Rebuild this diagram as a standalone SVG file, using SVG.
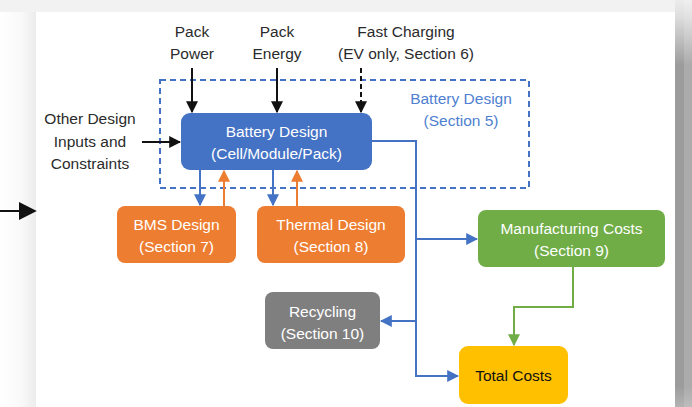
<svg xmlns="http://www.w3.org/2000/svg" width="692" height="407" viewBox="0 0 692 407">
  <defs>
    <linearGradient id="shadeRight" x1="0" y1="0" x2="0" y2="1">
      <stop offset="0" stop-color="#ececec"/>
      <stop offset="0.04" stop-color="#dedede"/>
      <stop offset="0.16" stop-color="#9c9c9c"/>
      <stop offset="0.95" stop-color="#9c9c9c"/>
      <stop offset="1" stop-color="#b4b4b4"/>
    </linearGradient>
    <linearGradient id="shadeRightOuter" x1="0" y1="0" x2="0" y2="1">
      <stop offset="0" stop-color="#efefef"/>
      <stop offset="0.04" stop-color="#e2e2e2"/>
      <stop offset="0.16" stop-color="#ababab"/>
      <stop offset="0.95" stop-color="#ababab"/>
      <stop offset="1" stop-color="#bdbdbd"/>
    </linearGradient>
    <linearGradient id="shadeLeft" x1="0" y1="0" x2="1" y2="0">
      <stop offset="0" stop-color="#ffffff"/>
      <stop offset="0.6" stop-color="#f9f9f9"/>
      <stop offset="1" stop-color="#ececec"/>
    </linearGradient>
    <marker id="arrowBlack" viewBox="0 0 10 10" refX="9" refY="5" markerWidth="6" markerHeight="6" markerUnits="strokeWidth" orient="auto">
      <path d="M0,0 L10,5 L0,10 z" fill="#111"/>
    </marker>
    <marker id="arrowBlackLarge" viewBox="0 0 10 10" refX="9" refY="5" markerWidth="9" markerHeight="9" markerUnits="strokeWidth" orient="auto">
      <path d="M0,0 L10,5 L0,10 z" fill="#111"/>
    </marker>
    <marker id="arrowBlue" viewBox="0 0 10 10" refX="9" refY="5" markerWidth="6" markerHeight="6" markerUnits="strokeWidth" orient="auto">
      <path d="M0,0 L10,5 L0,10 z" fill="#4472c4"/>
    </marker>
    <marker id="arrowOrange" viewBox="0 0 10 10" refX="9" refY="5" markerWidth="6" markerHeight="6" markerUnits="strokeWidth" orient="auto">
      <path d="M0,0 L10,5 L0,10 z" fill="#ed7d31"/>
    </marker>
    <marker id="arrowGreen" viewBox="0 0 10 10" refX="9" refY="5" markerWidth="6" markerHeight="6" markerUnits="strokeWidth" orient="auto">
      <path d="M0,0 L10,5 L0,10 z" fill="#70ad47"/>
    </marker>
  </defs>
  <style>
    text { font-family: "Liberation Sans", Arial, sans-serif; font-size: 15.5px; text-anchor: middle; }
    .dark { fill: #2b2b2b; }
    .light { fill: #ffffff; }
    .sec { fill: #4f7fd0; }
    .node rect { stroke: none; }
    .blue { fill: #4472c4; }
    .orange { fill: #ed7d31; }
    .green { fill: #70ad47; }
    .grey { fill: #7f7f7f; }
    .gold { fill: #ffc000; }
    .conn path, .conn line { fill: none; stroke-width: 2; }
    .k { stroke: #111; marker-end: url(#arrowBlack); }
    .kl { stroke: #111; marker-end: url(#arrowBlackLarge); }
    .b { stroke: #4472c4; marker-end: url(#arrowBlue); }
    .o { stroke: #ed7d31; marker-end: url(#arrowOrange); }
    .g { stroke: #70ad47; marker-end: url(#arrowGreen); }
  </style>

  <!-- page backdrop and panel -->
  <rect x="0" y="0" width="692" height="407" fill="#f2f2f2"/>
  <rect x="0" y="12" width="36" height="395" fill="url(#shadeLeft)"/>
  <rect x="675" y="0" width="9" height="407" fill="url(#shadeRight)"/>
  <rect x="684" y="0" width="8" height="407" fill="url(#shadeRightOuter)"/>
  <rect x="36" y="12" width="639" height="395" fill="#ffffff"/>

  <!-- battery design section boundary -->
  <g id="section5">
    <rect x="160" y="80" width="369" height="108" fill="none" stroke="#4472c4" stroke-width="2" stroke-dasharray="6,4"/>
    <text class="sec" x="461" y="104">Battery Design</text>
    <text class="sec" x="461" y="126">(Section 5)</text>
  </g>

  <!-- input labels -->
  <g id="pack-power">
    <text class="dark" x="192" y="37">Pack</text>
    <text class="dark" x="192" y="59">Power</text>
  </g>
  <g id="pack-energy">
    <text class="dark" x="277" y="37">Pack</text>
    <text class="dark" x="277" y="59">Energy</text>
  </g>
  <g id="fast-charging">
    <text class="dark" x="406" y="37">Fast Charging</text>
    <text class="dark" x="406" y="59">(EV only, Section 6)</text>
  </g>
  <g id="other-inputs">
    <text class="dark" x="90" y="124">Other Design</text>
    <text class="dark" x="90" y="147">Inputs and</text>
    <text class="dark" x="90" y="169">Constraints</text>
  </g>

  <!-- connectors -->
  <g id="connectors" class="conn">
    <line class="kl" x1="0" y1="211" x2="35" y2="211" stroke-width="1.8"/>
    <line class="k" x1="192" y1="68" x2="192" y2="112"/>
    <line class="k" x1="277" y1="68" x2="277" y2="112"/>
    <line class="k" x1="361" y1="68" x2="361" y2="112" stroke-dasharray="5,3"/>
    <line class="k" x1="142" y1="142" x2="180" y2="142"/>
    <line class="b" x1="200" y1="170" x2="200" y2="205"/>
    <line class="o" x1="224" y1="206" x2="224" y2="171"/>
    <line class="b" x1="273" y1="170" x2="273" y2="205"/>
    <line class="o" x1="297" y1="206" x2="297" y2="171"/>
    <path class="b" d="M372,141 H416 V376 H458"/>
    <path class="b" d="M416,239 H477"/>
    <path class="b" d="M416,321 H381"/>
    <path class="g" d="M573,267 V307 H514 V345"/>
  </g>

  <!-- nodes -->
  <g id="battery-design" class="node">
    <rect class="blue" x="181" y="113" width="191" height="57" rx="9"/>
    <text class="light" x="276.5" y="137">Battery Design</text>
    <text class="light" x="276.5" y="159">(Cell/Module/Pack)</text>
  </g>
  <g id="bms-design" class="node">
    <rect class="orange" x="117" y="206" width="119" height="57" rx="8"/>
    <text class="light" x="176.5" y="230">BMS Design</text>
    <text class="light" x="176.5" y="252">(Section 7)</text>
  </g>
  <g id="thermal-design" class="node">
    <rect class="orange" x="257" y="206" width="148" height="57" rx="8"/>
    <text class="light" x="331" y="230">Thermal Design</text>
    <text class="light" x="331" y="252">(Section 8)</text>
  </g>
  <g id="manufacturing-costs" class="node">
    <rect class="green" x="478" y="210" width="187" height="57" rx="8"/>
    <text class="light" x="571.5" y="234">Manufacturing Costs</text>
    <text class="light" x="571.5" y="256">(Section 9)</text>
  </g>
  <g id="recycling" class="node">
    <rect class="grey" x="265" y="292" width="115" height="57" rx="8"/>
    <text class="light" x="322.5" y="317">Recycling</text>
    <text class="light" x="322.5" y="339">(Section 10)</text>
  </g>
  <g id="total-costs" class="node">
    <rect class="gold" x="459" y="346" width="109" height="58" rx="9"/>
    <text fill="#111" x="513.5" y="381">Total Costs</text>
  </g>
</svg>
